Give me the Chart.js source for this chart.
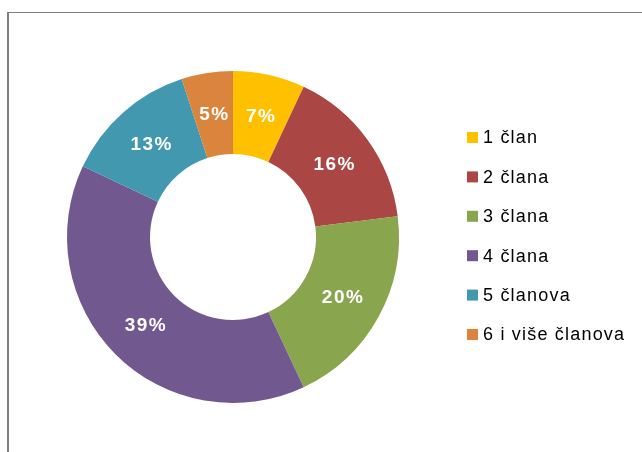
<!DOCTYPE html>
<html>
<head>
<meta charset="utf-8">
<script src="https://cdn.jsdelivr.net/npm/chart.js@4"></script>
<style>
  html, body { margin: 0; padding: 0; background: #fff; }
  #wrap { position: relative; width: 642px; height: 452px; overflow: hidden; }
  #okvir { position: absolute; left: 7px; top: 12px; right: -5px; bottom: -5px;
           border-top: 1px solid #808080; border-left: 2px solid #808080; }
  canvas { position: absolute; left: 0; top: 0; }
</style>
</head>
<body>
<div id="wrap">
  <div id="okvir"></div>
  <canvas id="grafikon" width="642" height="452"></canvas>
</div>
<script>
// PODACI
const kategorije = ['1 član', '2 člana', '3 člana', '4 člana', '5 članova', '6 i više članova'];
const postoci = [7, 16, 20, 39, 13, 5];
const boje = ['#FFC000', '#AA4643', '#89A54E', '#71588F', '#4198AF', '#DB843D'];

// OZNAKE POSTOTAKA NA ISJEČCIMA
const oznakePlugin = {
  id: 'oznake',
  afterDatasetsDraw(chart) {
    const ctx = chart.ctx;
    const meta = chart.getDatasetMeta(0);
    ctx.save();
    ctx.fillStyle = '#fff';
    ctx.font = 'bold 19px "Liberation Sans", Arial, sans-serif';
    ctx.letterSpacing = '1.5px';
    ctx.textAlign = 'center';
    ctx.textBaseline = 'middle';
    meta.data.forEach((arc, i) => {
      const p = arc.tooltipPosition();
      ctx.fillText(postoci[i] + '%', p.x + 1, p.y + 1);
    });
    ctx.restore();
  }
};

// LEGENDA DESNO
const legendaPlugin = {
  id: 'legenda',
  afterDraw(chart) {
    const ctx = chart.ctx;
    ctx.save();
    ctx.font = '18px "Liberation Sans", Arial, sans-serif';
    ctx.letterSpacing = '1.2px';
    ctx.textBaseline = 'middle';
    kategorije.forEach((k, i) => {
      const y = 137.5 + i * 39.4;
      ctx.fillStyle = boje[i];
      ctx.fillRect(467, y - 5.5, 11, 11);
      ctx.fillStyle = '#000';
      ctx.fillText(k, 483, y + 1);
    });
    ctx.restore();
  }
};

new Chart(document.getElementById('grafikon'), {
  type: 'doughnut',
  data: {
    labels: kategorije,
    datasets: [{
      data: postoci,
      backgroundColor: boje,
      borderWidth: 0
    }]
  },
  options: {
    responsive: false,
    animation: false,
    cutout: '50%',
    layout: { padding: { left: 67, top: 71, right: 243, bottom: 49 } },
    plugins: {
      legend: { display: false },
      tooltip: { enabled: false }
    }
  },
  plugins: [oznakePlugin, legendaPlugin]
});
</script>
</body>
</html>
